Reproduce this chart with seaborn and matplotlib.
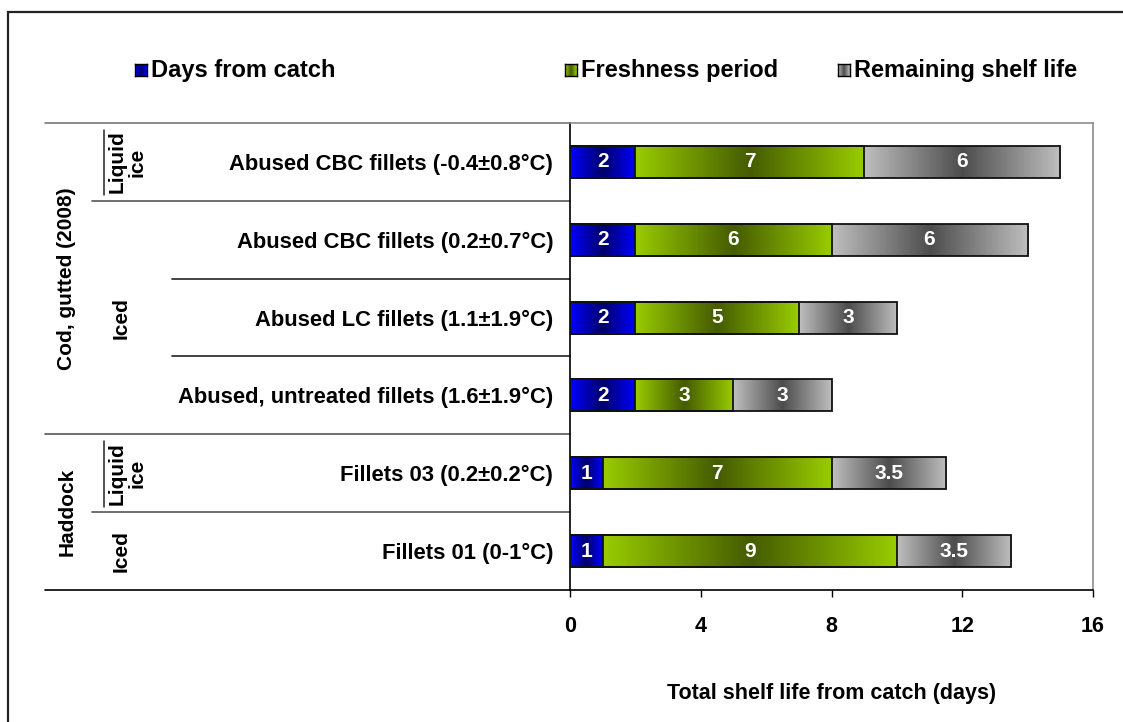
import numpy as np
import pandas as pd
import matplotlib
matplotlib.use("Agg")
import matplotlib.pyplot as plt
import matplotlib.transforms as mtransforms
from matplotlib.patches import Rectangle
from matplotlib.lines import Line2D
import seaborn as sns

# ---------------- data ----------------
categories = [
    "Abused CBC fillets (-0.4±0.8°C)",
    "Abused CBC fillets (0.2±0.7°C)",
    "Abused LC fillets (1.1±1.9°C)",
    "Abused, untreated fillets (1.6±1.9°C)",
    "Fillets 03 (0.2±0.2°C)",
    "Fillets 01 (0-1°C)",
]
days_from_catch = [2, 2, 2, 2, 1, 1]
freshness_period = [7, 6, 5, 3, 7, 9]
remaining_shelf_life = [6, 6, 3, 3, 3.5, 3.5]
series_names = ["Days from catch", "Freshness period", "Remaining shelf life"]
x_ticks = [0, 4, 8, 12, 16]
x_label = "Total shelf life from catch (days)"
# group labels: (text, first row, last row)
species_groups = [("Cod, gutted (2008)", 0, 3), ("Haddock", 4, 5)]
storage_groups = [("Liquid\nice", 0, 0), ("Iced", 1, 3), ("Liquid\nice", 4, 4), ("Iced", 5, 5)]

# gradient colours (edge, centre)
grad_colors = [
    ((0.0, 0.0, 1.0), (0.0, 0.0, 0.42)),
    ((0.60, 0.80, 0.0), (0.27, 0.36, 0.0)),
    ((0.75, 0.75, 0.75), (0.30, 0.30, 0.30)),
]

sns.set_style("white")
plt.rcParams["font.family"] = ["Liberation Sans", "DejaVu Sans"]
plt.rcParams["font.weight"] = "bold"
plt.rcParams["text.color"] = "black"
plt.rcParams["axes.labelcolor"] = "black"
plt.rcParams["xtick.color"] = "black"
plt.rcParams["ytick.color"] = "black"

W, H = 1123, 722
fig = plt.figure(figsize=(W / 100, H / 100), dpi=100)
ax_l, ax_r, ax_t, ax_b = 570, 1093, 123, 590
ax = fig.add_axes([ax_l / W, 1 - ax_b / H, (ax_r - ax_l) / W, (ax_b - ax_t) / H])

df = pd.DataFrame({
    "cat": categories,
    "d": days_from_catch,
    "f": freshness_period,
    "r": remaining_shelf_life,
})
df["c1"] = df["d"]
df["c2"] = df["d"] + df["f"]
df["c3"] = df["d"] + df["f"] + df["r"]

bar_h = 0.41
# outlines of stacked segments (cumulative bars drawn with seaborn)
for col in ["c3", "c2", "c1"]:
    sns.barplot(data=df, x=col, y="cat", orient="h", ax=ax, fill=False,
                color="#111111", linewidth=1.3, width=bar_h, zorder=3)

# gradient fills
def grad_img(edge, center, n=256):
    t = np.linspace(0, 1, n)
    w = 1 - np.abs(2 * t - 1)
    e = np.array(edge); c = np.array(center)
    img = e[None, :] + (c - e)[None, :] * w[:, None]
    return img[None, :, :]

segs = [(np.zeros(len(df)), df["c1"].values),
        (df["c1"].values, df["c2"].values),
        (df["c2"].values, df["c3"].values)]
vals = [df["d"].values, df["f"].values, df["r"].values]
for si, (starts, ends) in enumerate(segs):
    img = grad_img(*grad_colors[si])
    for i in range(len(df)):
        ax.imshow(img, extent=(starts[i], ends[i], i + bar_h / 2, i - bar_h / 2),
                  aspect="auto", zorder=2, interpolation="bilinear")
        v = vals[si][i]
        ax.text((starts[i] + ends[i]) / 2, i, f"{v:g}", color="white", fontsize=15,
                fontweight="bold", ha="center", va="center", zorder=4)

ax.set_xlim(0, 16)
ax.set_ylim(len(df) - 0.5, -0.5)
ax.set_xticks(x_ticks)
ax.set_xticklabels([str(t) for t in x_ticks], fontsize=15.5, fontweight="bold")
ax.tick_params(axis="x", direction="out", length=5, width=1, pad=14, colors="black",
               bottom=True)
ax.tick_params(axis="y", length=0, pad=12)
ax.set_yticks(range(len(categories)))
ax.set_yticklabels(categories, fontsize=15.8, fontweight="bold")
ax.set_ylabel("")
ax.set_xlabel(x_label, fontsize=15.5, fontweight="bold")
ax.xaxis.set_label_coords(0.5, -0.2)

for s in ["top", "right"]:
    ax.spines[s].set_visible(True)
    ax.spines[s].set_color("#8c8c8c")
    ax.spines[s].set_linewidth(1.2)
for s in ["left", "bottom"]:
    ax.spines[s].set_color("black")
    ax.spines[s].set_linewidth(1.2)

# category table lines
def axfrac(px):
    return (px - ax_l) / (ax_r - ax_l)

trans = mtransforms.blended_transform_factory(ax.transAxes, ax.transData)
boundaries = [(-0.5, 45, "#777777"), (0.5, 92, "#555555"), (1.5, 172, "#222222"),
              (2.5, 172, "#222222"), (3.5, 45, "#555555"), (4.5, 92, "#555555")]
for yb, xpx, col in boundaries:
    ax.add_line(Line2D([axfrac(xpx), 0], [yb, yb], transform=trans, color=col,
                       lw=1.2, clip_on=False))
ax.add_line(Line2D([axfrac(45), 0], [5.5, 5.5], transform=trans, color="black",
                   lw=1.2, clip_on=False))

for txt, r0, r1 in species_groups:
    ax.text(axfrac(67), (r0 + r1) / 2, txt, transform=trans, rotation=90,
            ha="center", va="center", fontsize=15, fontweight="bold")
for txt, r0, r1 in storage_groups:
    xpx = 127 if "\n" in txt else 121
    ax.text(axfrac(xpx), (r0 + r1) / 2, txt, transform=trans, rotation=90,
            ha="center", va="center", fontsize=15, fontweight="bold",
            multialignment="center", linespacing=1.0)
    if "\n" in txt:
        ax.add_line(Line2D([axfrac(104), axfrac(104)], [r0 - 0.41, r0 + 0.43],
                           transform=trans, color="#222222", lw=1.1, clip_on=False))

# legend
leg_sq = [135, 565, 838]
leg_y = 70
for k, name in enumerate(series_names):
    sx = leg_sq[k]
    lax = fig.add_axes([sx / W, 1 - (leg_y + 6) / H, 12 / W, 12 / H])
    lax.imshow(grad_img(*grad_colors[k]), aspect="auto", extent=(0, 1, 0, 1))
    lax.set_xticks([]); lax.set_yticks([])
    for s in lax.spines.values():
        s.set_color("black"); s.set_linewidth(1)
    fig.text((sx + 16) / W, 1 - leg_y / H, name, fontsize=17, fontweight="bold",
             ha="left", va="center")

# outer frame
fig.add_artist(Rectangle((8 / W, -0.1), 1.2, 1 - 12 / H + 0.1, transform=fig.transFigure,
                         fill=False, edgecolor="#222222", lw=1.6))

fig.savefig("out.png", dpi=100)
